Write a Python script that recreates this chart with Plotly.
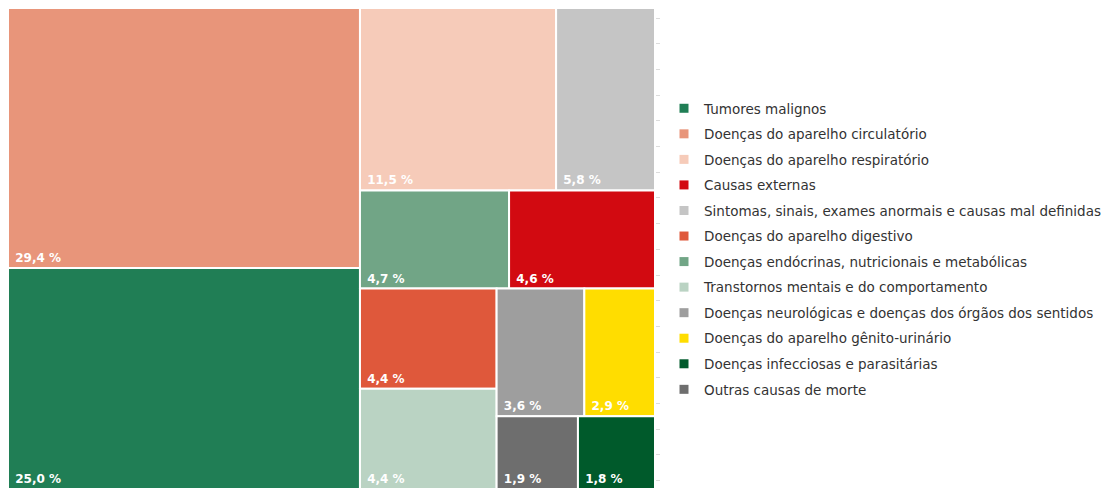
import plotly.graph_objects as go

# Data (legend order)
categories = [
    "Tumores malignos",
    "Doenças do aparelho circulatório",
    "Doenças do aparelho respiratório",
    "Causas externas",
    "Sintomas, sinais, exames anormais e causas mal definidas",
    "Doenças do aparelho digestivo",
    "Doenças endócrinas, nutricionais e metabólicas",
    "Transtornos mentais e do comportamento",
    "Doenças neurológicas e doenças dos órgãos dos sentidos",
    "Doenças do aparelho gênito-urinário",
    "Doenças infecciosas e parasitárias",
    "Outras causas de morte",
]
values = [25.0, 29.4, 11.5, 4.6, 5.8, 4.4, 4.7, 4.4, 3.6, 2.9, 1.8, 1.9]
colors = [
    "#207E55", "#E8957A", "#F6CBB9", "#D20A11", "#C5C5C5", "#DF583B",
    "#71A586", "#BAD3C3", "#9E9E9E", "#FFDD00", "#005A2B", "#6E6E6E",
]
labels_text = [f"{v:.1f}".replace(".", ",") + " %" for v in values]

FONT = "DejaVu Sans"

# plot area (figure px); the page body adds an 8 px offset
PW, PH = 647, 481

fig = go.Figure()
fig.add_trace(go.Treemap(
    labels=categories,
    parents=[""] * len(categories),
    values=values,
    text=labels_text,
    textinfo="text",
    texttemplate="<b>\u00a0%{text}</b>",
    textposition="bottom left",
    textfont=dict(family=FONT, size=12, color="white"),
    marker=dict(colors=colors, line=dict(width=2, color="white"),
                pad=dict(t=0, l=0, r=0, b=0)),
    tiling=dict(packing="squarify", squarifyratio=1, pad=0),
    pathbar=dict(visible=False),
    sort=True,
    hoverinfo="skip",
))

for name, col in zip(categories, colors):
    fig.add_trace(go.Scatter(
        x=[None], y=[None], mode="markers", name=name, legendgroup=name,
        marker=dict(symbol="square", size=9, color=col),
        hoverinfo="skip",
    ))

fig.update_layout(
    width=1116, height=489,
    margin=dict(l=0, r=1116 - PW, t=0, b=489 - PH, autoexpand=False),
    paper_bgcolor="white", plot_bgcolor="rgba(0,0,0,0)",
    font=dict(family=FONT, size=13, color="#333333"),
    showlegend=True,
    legend=dict(
        x=656 / PW, y=(PH - 85) / PH, xanchor="left", yanchor="top",
        traceorder="grouped", tracegroupgap=5,
        font=dict(family=FONT, size=13.5, color="#333333"),
        bgcolor="rgba(0,0,0,0)",
    ),
    xaxis=dict(range=[0, PW], side="top", showticklabels=False, showgrid=False,
               zeroline=False, showline=False, ticks="outside", ticklen=4,
               tickcolor="#dcdcdc", tick0=84, dtick=91.8, mirror="ticks",
               fixedrange=True, automargin=False),
    yaxis=dict(range=[PH, 0], showticklabels=False, showgrid=False,
               zeroline=False, showline=False, ticks="outside", ticklen=4,
               tickcolor="#dcdcdc", tick0=10, dtick=25.7, mirror="ticks",
               fixedrange=True, automargin=False),
)

fig.write_html("out.html")
